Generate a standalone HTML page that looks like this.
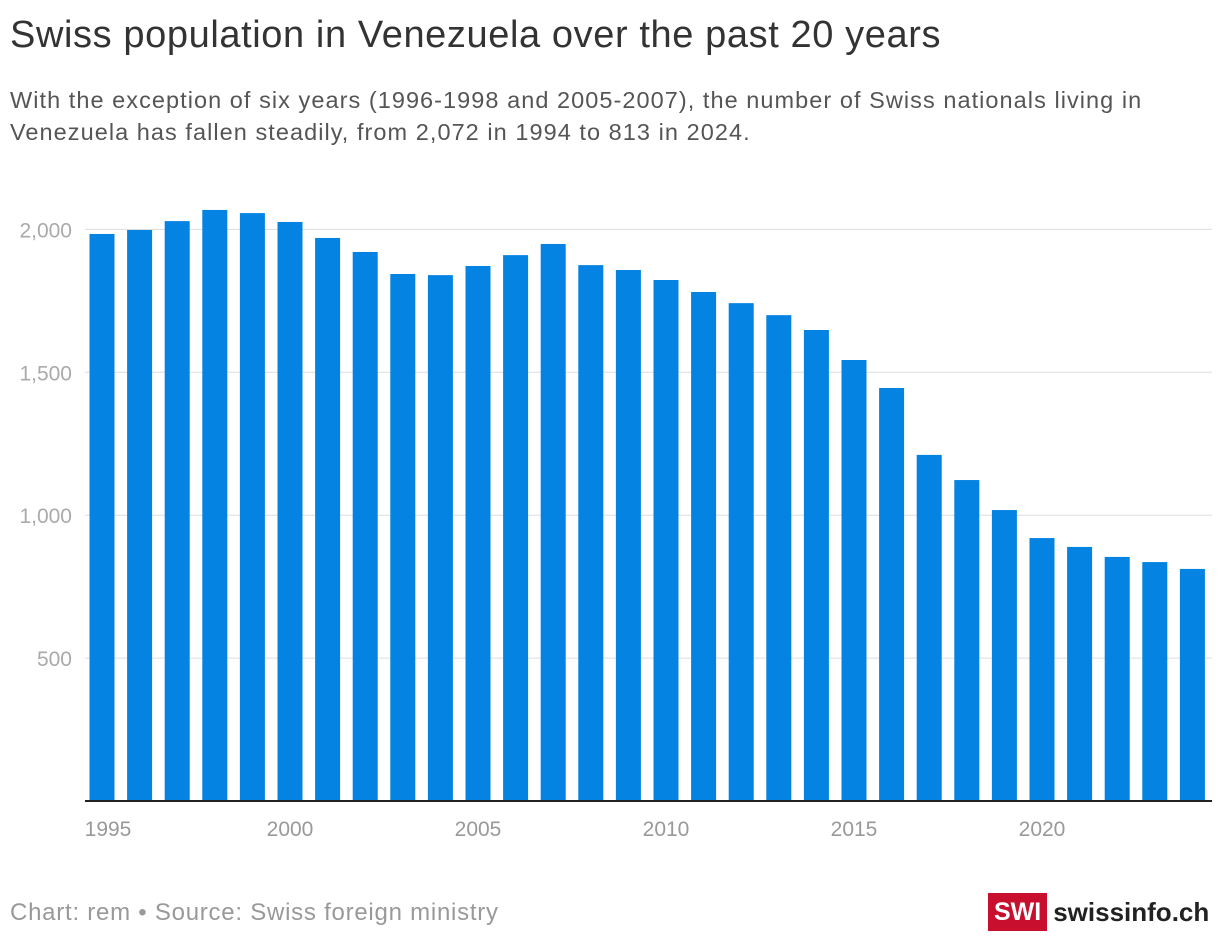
<!DOCTYPE html>
<html><head><meta charset="utf-8"><style>
body{margin:0;width:1220px;height:948px;background:#fff;font-family:"Liberation Sans",sans-serif;overflow:hidden;position:relative}
h1{position:absolute;left:10px;top:14px;margin:0;font-weight:normal;font-size:38px;letter-spacing:0.6px;color:#333;white-space:nowrap}
.sub{position:absolute;left:10px;top:84px;font-size:23.5px;letter-spacing:1.05px;line-height:32px;color:#555;width:1200px;white-space:nowrap}
.foot{position:absolute;left:10px;top:899px;font-size:24px;letter-spacing:0.75px;color:#999}
.logo{position:absolute;left:988px;top:893px;display:flex;align-items:center}
.swi{background:#c8102e;color:#fff;font-weight:bold;font-size:25px;padding:2px 6px;height:34px;line-height:34px}
.sc{font-weight:bold;font-size:26px;color:#222;margin-left:6px}
</style></head><body>
<h1>Swiss population in Venezuela over the past 20 years</h1>
<div class="sub">With the exception of six years (1996-1998 and 2005-2007), the number of Swiss nationals living in<br>Venezuela has fallen steadily, from 2,072 in 1994 to 813 in 2024.</div>
<svg id="chart" width="1220" height="948" style="position:absolute;left:0;top:0"></svg>
<div class="foot">Chart: rem • Source: Swiss foreign ministry</div>
<div class="logo"><span class="swi">SWI</span><span class="sc">swissinfo.ch</span></div>
<script>
const years=[1995,1996,1997,1998,1999,2000,2001,2002,2003,2004,2005,2006,2007,2008,2009,2010,2011,2012,2013,2014,2015,2016,2017,2018,2019,2020,2021,2022,2023,2024];
const values=[1984,1998,2029,2068,2057,2026,1970,1921,1844,1840,1872,1910,1949,1875,1858,1823,1781,1742,1700,1648,1543,1445,1211,1123,1018,920,889,854,836,812];
const yTicks=[500,1000,1500,2000];
const xTicks=[1995,2000,2005,2010,2015,2020];
const svg=document.getElementById('chart');
const NS='http://www.w3.org/2000/svg';
const y0=801,k=0.2858,x0=102,step=37.6,bw=25;
const yS=v=>y0-v*k;
const xS=yr=>x0+(yr-years[0])*step;
function mk(t,a){const e=document.createElementNS(NS,t);for(const n in a)e.setAttribute(n,a[n]);svg.appendChild(e);return e;}
yTicks.forEach(v=>{
 const l=mk('line',{x1:85,x2:1212,y1:yS(v),y2:yS(v),stroke:'#ddd','stroke-width':1});
 
 
 const t=mk('text',{x:72,y:yS(v)+8,'text-anchor':'end','font-size':21,fill:'#aaa','font-family':'Liberation Sans, sans-serif'});
 t.textContent=v.toLocaleString('en-US');
 
 
});
years.forEach((yr,i)=>{
 const r=mk('rect',{x:xS(yr)-bw/2,y:yS(values[i]),width:bw,height:values[i]*k,fill:'#0483e2'});
 
 
});
const b=mk('line',{x1:85,x2:1212,y1:y0,y2:y0,stroke:'#222','stroke-width':2});


xTicks.forEach(yr=>{
 const t=mk('text',{x:Math.max(xS(yr),108),y:836,'text-anchor':'middle','font-size':21,fill:'#999','font-family':'Liberation Sans, sans-serif'});
 t.textContent=yr;
 
 
});
</script>
</body></html>
